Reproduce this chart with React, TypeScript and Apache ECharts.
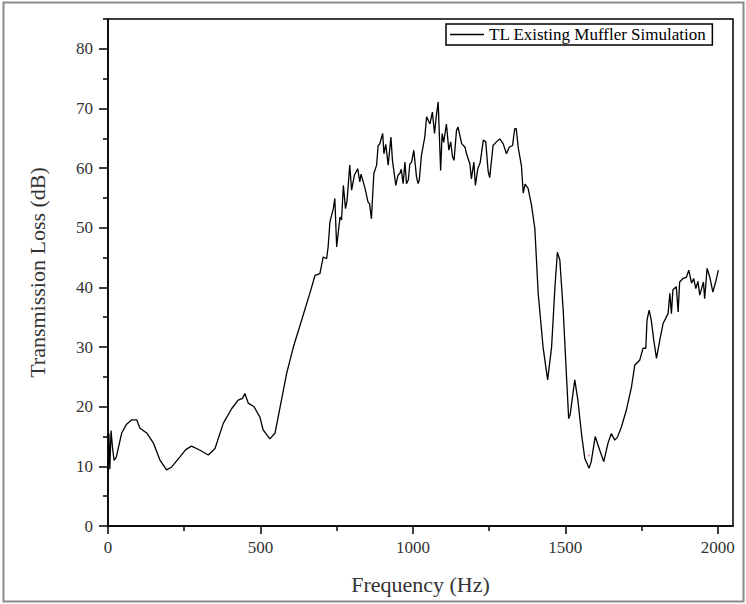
import React, { useEffect, useRef } from "react";
import * as echarts from "echarts";

const freqHz = [
  0, 3, 6, 10, 15, 20, 27, 45, 60, 78, 94, 105, 127, 149, 170, 192, 209, 236, 255, 274, 302, 329, 351, 378, 406, 427, 441, 449, 460, 479, 498, 509, 531, 548, 564, 586, 608, 635, 662, 679, 695, 706, 717, 722, 728, 739, 744, 750, 761, 766, 772, 779, 784, 793, 799, 808, 819, 826, 830, 843, 853, 858, 864, 872, 881, 886, 891, 901, 905, 911, 919, 928, 933, 944, 951, 957, 962, 968, 974, 979, 985, 990, 996, 1003, 1012, 1017, 1021, 1028, 1039, 1045, 1056, 1064, 1071, 1077, 1083, 1091, 1096, 1101, 1110, 1118, 1124, 1130, 1135, 1143, 1148, 1160, 1171, 1176, 1187, 1192, 1200, 1205, 1213, 1221, 1231, 1239, 1247, 1252, 1263, 1274, 1285, 1296, 1307, 1316, 1327, 1334, 1339, 1346, 1356, 1362, 1368, 1378, 1389, 1400, 1411, 1427, 1442, 1455, 1466, 1474, 1482, 1493, 1504, 1511, 1516, 1531, 1541, 1553, 1564, 1578, 1585, 1598, 1613, 1626, 1640, 1651, 1662, 1671, 1684, 1700, 1717, 1728, 1744, 1755, 1764, 1768, 1775, 1782, 1790, 1799, 1810, 1821, 1837, 1843, 1848, 1853, 1864, 1870, 1875, 1886, 1897, 1905, 1914, 1921, 1928, 1935, 1941, 1953, 1957, 1965, 1974, 1984, 1993, 2002,
];

const transmissionLoss = [
  9, 15.5, 9.5, 16, 13, 11, 11.5, 15.6, 17, 17.8, 17.8, 16.4, 15.6, 13.9, 11.1, 9.4, 9.9, 11.6, 12.8, 13.4, 12.7, 11.9, 13, 17.2, 19.7, 21.1, 21.4, 22.2, 20.6, 20, 18.3, 16.1, 14.6, 15.6, 19.8, 25.6, 30, 34.5, 39, 42, 42.3, 45.1, 44.8, 46.8, 51, 53.2, 54.9, 46.8, 51.8, 51.3, 57.1, 53.2, 54.5, 60.5, 56.3, 58.8, 59.9, 57.7, 59, 56.6, 54.3, 54, 51.5, 59.1, 60.5, 63.8, 64, 65.8, 62.4, 64, 60.5, 65.2, 61.3, 57.1, 58.8, 59.1, 59.8, 57.4, 61, 57.4, 58, 60.7, 61, 63, 58.5, 57.4, 58, 62.1, 65.2, 68.6, 67.4, 69.4, 65.8, 68.8, 71.1, 59.6, 65.8, 64.3, 67.4, 63, 64.4, 61.9, 61.3, 66.3, 66.9, 64.1, 63.5, 62.4, 60.7, 58.2, 61, 57.1, 59.9, 61, 64.7, 64.4, 59.4, 58.4, 63.8, 64.4, 64.9, 64.1, 62.4, 63.5, 63.8, 66.6, 66.6, 63.3, 60.4, 55.8, 57.3, 56.6, 53.8, 49.9, 39, 30, 24.5, 30, 40.1, 45.9, 44.6, 36.2, 25, 18, 18.7, 24.5, 21.2, 15.5, 11.3, 9.7, 10.8, 15, 12.7, 10.8, 13.9, 15.5, 14.4, 14.9, 16.6, 19.4, 23.3, 27, 27.8, 29.8, 29.8, 34.5, 36.2, 34.5, 31.2, 28.1, 31.2, 34, 35.6, 39, 35.6, 39.6, 40.1, 35.9, 40.9, 41.5, 41.7, 42.9, 40.7, 41.5, 39.8, 41, 38.7, 40.9, 38.1, 43.2, 41.7, 39.2, 40.9, 42.9,
];

const markerPoint = [1577, 11.8];

const xMajorTicks = [0, 500, 1000, 1500, 2000];
const xMinorTicks = [250, 750, 1250, 1750];
const yMajorTicks = [0, 10, 20, 30, 40, 50, 60, 70, 80];
const yMinorTicks = [5, 15, 25, 35, 45, 55, 65, 75, 85];

const seriesName = "TL Existing Muffler Simulation";
const xTitle = "Frequency (Hz)";
const yTitle = "Transmission Loss (dB)";

const FONT = "'Liberation Serif', 'Times New Roman', serif";

export default function App() {
  const ref = useRef<HTMLDivElement>(null);

  useEffect(() => {
    document.body.style.margin = "0";
    const chart = echarts.init(ref.current!, null, { renderer: "svg" });
    const lineData = freqHz.map((f, i) => [f, transmissionLoss[i]]);
    const axisLineStyle = { color: "#000", width: 1.5 };
    const labelStyle = { fontFamily: FONT, fontSize: 17, color: "#333" };

    chart.setOption({
      animation: false,
      backgroundColor: "#fff",
      grid: {
        left: 108,
        top: 19,
        width: 625,
        height: 507,
        show: true,
        borderColor: "#000",
        borderWidth: 1.5,
        backgroundColor: "transparent",
      },
      legend: {
        left: 446,
        top: 24,
        padding: [2, 6, 2, 4],
        borderColor: "#000",
        borderWidth: 1.5,
        itemWidth: 34,
        itemHeight: 12,
        itemGap: 4,
        data: [{ name: seriesName, icon: "path://M0,0H34V1.3H0Z" }],
        textStyle: { fontFamily: FONT, fontSize: 17, color: "#000" },
      },
      xAxis: [
        {
          type: "value",
          min: 0,
          max: 2050,
          position: "bottom",
          axisLine: { show: true, lineStyle: axisLineStyle },
          axisTick: { show: true, customValues: xMajorTicks, length: 8, lineStyle: axisLineStyle },
          axisLabel: {
            customValues: xMajorTicks,
            margin: 13,
            formatter: (v: number) => String(v),
            ...labelStyle,
          },
          splitLine: { show: false },
          name: xTitle,
          nameLocation: "middle",
          nameGap: 47,
          nameTextStyle: { fontFamily: FONT, fontSize: 22, color: "#333" },
        },
        {
          type: "value",
          min: 0,
          max: 2050,
          position: "bottom",
          axisLine: { show: false },
          axisTick: { show: true, customValues: xMinorTicks, length: 5, lineStyle: axisLineStyle },
          axisLabel: { show: false },
          splitLine: { show: false },
        },
      ],
      yAxis: [
        {
          type: "value",
          min: 0,
          max: 85,
          position: "left",
          axisLine: { show: true, lineStyle: axisLineStyle },
          axisTick: { show: true, customValues: yMajorTicks, length: 9, lineStyle: axisLineStyle },
          axisLabel: { customValues: yMajorTicks, margin: 15, ...labelStyle },
          splitLine: { show: false },
          name: yTitle,
          nameLocation: "middle",
          nameGap: 60,
          nameTextStyle: { fontFamily: FONT, fontSize: 22, color: "#333" },
        },
        {
          type: "value",
          min: 0,
          max: 85,
          position: "left",
          axisLine: { show: false },
          axisTick: { show: true, customValues: yMinorTicks, length: 5, lineStyle: axisLineStyle },
          axisLabel: { show: false },
          splitLine: { show: false },
        },
      ],
      series: [
        {
          name: seriesName,
          type: "line",
          xAxisIndex: 0,
          yAxisIndex: 0,
          data: lineData,
          symbol: "none",
          lineStyle: { color: "#000", width: 1.3 },
          itemStyle: { color: "#000" },
        },
        {
          name: "marker",
          type: "scatter",
          xAxisIndex: 0,
          yAxisIndex: 0,
          data: [markerPoint],
          symbolSize: 2,
          itemStyle: { color: "#ff5a5a" },
          silent: true,
        },
      ],
      graphic: [
        {
          type: "rect",
          shape: { x: 3.5, y: 2.5, width: 740, height: 599 },
          style: { fill: "none", stroke: "#8c8c8c", lineWidth: 2 },
          silent: true,
        },
      ],
    });

    return () => chart.dispose();
  }, []);

  return <div ref={ref} style={{ width: 746, height: 604 }} />;
}
